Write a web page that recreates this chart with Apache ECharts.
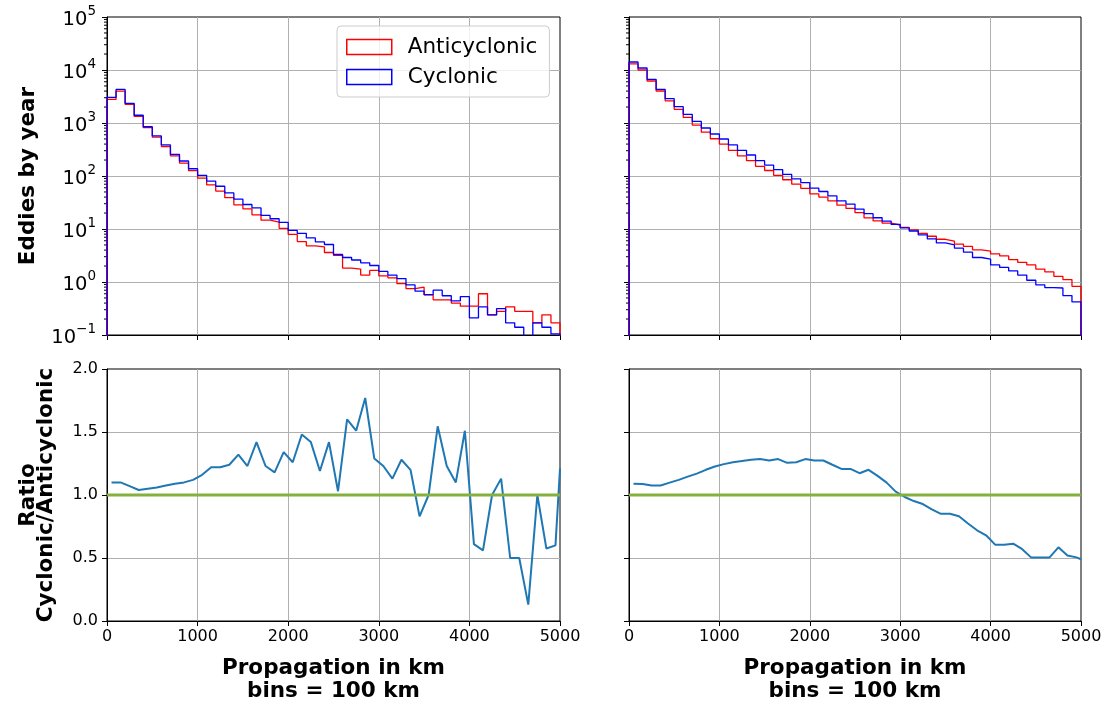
<!DOCTYPE html>
<html>
<head>
<meta charset="utf-8">
<script src="https://cdn.jsdelivr.net/npm/echarts@6/dist/echarts.min.js"></script>
<style>
html,body{margin:0;padding:0;background:#fff;}
#chart{width:1114px;height:708px;}
</style>
</head>
<body>
<div id="chart"></div>
<script>
// ---- data ----
const BIN_EDGES = [0,100,200,300,400,500,600,700,800,900,1000,1100,1200,1300,1400,1500,1600,1700,1800,1900,2000,2100,2200,2300,2400,2500,2600,2700,2800,2900,3000,3100,3200,3300,3400,3500,3600,3700,3800,3900,4000,4100,4200,4300,4400,4500,4600,4700,4800,4900,5000];
const X_TICKS = [0,1000,2000,3000,4000,5000];

const leftAnti = [2800,4000,2250,1330,815,540,360,240,175,126,
  91,68,52,39,28.6,24,18.5,14.7,13.5,10.3,
  7.9,5.8,4.8,4.6,3.6,3.2,1.83,1.75,1.35,1.65,
  1.31,1.2,0.93,0.75,0.80,0.57,0.46,0.46,0.40,0.35,
  0.35,0.60,0.24,0.28,0.34,0.28,0.28,0.17,0.24,0.17];
const leftCyc = [3050,4300,2350,1400,850,570,385,256,192,137,
  103,80,64,48,36.5,29,25,18,15.6,13.3,
  9.4,8.3,6.8,5.7,5.1,3.3,2.9,2.6,2.3,2.05,
  1.58,1.35,1.16,0.88,0.67,0.58,0.70,0.55,0.44,0.53,
  0.21,0.34,0.24,0.315,0.17,0.14,0.036,0.17,0.14,0.105];
const rightAnti = [13000,10000,6200,4020,2620,1810,1275,915,670,505,
  400,305,240,195,152,127,103,85,70,58.5,
  46,40,34,28.2,24.4,20.3,16.2,14.2,12.9,11.9,
  10.7,9.63,8.3,7.3,6.4,5.9,5.2,4.7,4.04,3.81,
  3.4,3.1,2.65,2.35,2.1,1.75,1.55,1.28,1.11,0.83];
const rightCyc = [14150,10900,6670,4320,2880,2030,1460,1070,805,620,
  499,385,305,249,195,161,132,107,88,75,
  59,51,42,34,29.5,23.8,19.5,16.3,14.1,12.2,
  10.5,9.17,7.72,6.49,5.46,5.01,4.34,3.65,2.9,2.7,
  2.1,1.88,1.62,1.35,1.08,0.88,0.78,0.77,0.554,0.42];
// ratio at bin centres, last value read at the right edge (5000)
const RATIO_X = [50,150,250,350,450,550,650,750,850,950,1050,1150,1250,1350,1450,1550,1650,1750,1850,1950,2050,2150,2250,2350,2450,2550,2650,2750,2850,2950,3050,3150,3250,3350,3450,3550,3650,3750,3850,3950,4050,4150,4250,4350,4450,4550,4650,4750,4850,4950,5000];
const leftRatio = [1.10,1.10,1.07,1.04,1.05,1.06,1.075,1.09,1.10,1.12,
  1.16,1.22,1.22,1.24,1.32,1.23,1.42,1.23,1.18,1.34,
  1.26,1.48,1.42,1.19,1.42,1.03,1.60,1.51,1.77,1.29,
  1.23,1.13,1.28,1.20,0.83,1.00,1.545,1.23,1.10,1.51,
  0.61,0.56,1.00,1.13,0.50,0.50,0.13,1.00,0.575,0.60,1.21];
const rightRatio = [1.09,1.088,1.075,1.075,1.098,1.12,1.146,1.17,1.2,1.226,
  1.245,1.26,1.27,1.28,1.285,1.274,1.285,1.255,1.26,1.285,
  1.274,1.274,1.24,1.207,1.207,1.173,1.2,1.152,1.098,1.027,
  0.984,0.952,0.928,0.886,0.851,0.851,0.832,0.774,0.72,0.68,
  0.606,0.606,0.614,0.57,0.503,0.503,0.503,0.585,0.52,0.505,0.49];
const REF_LINE = [1, 1];
const LOG_MIN = 0.1, LOG_MAX = 100000;
const RATIO_TICKS = [0, 0.5, 1.0, 1.5, 2.0];

// ---- helpers ----
const FLOOR = 1e-3;
function stepPoints(vals) {
  const pts = [[BIN_EDGES[0], FLOOR]];
  for (let i = 0; i < vals.length; i++) {
    pts.push([BIN_EDGES[i], vals[i]]);
    pts.push([BIN_EDGES[i + 1], vals[i]]);
  }
  pts.push([BIN_EDGES[BIN_EDGES.length - 1], FLOOR]);
  return pts;
}
function zip(xs, ys) { return ys.map((y, i) => [xs[i], y]); }
const minorVals = [];
for (let d = -1; d < 5; d++) for (let m = 2; m <= 9; m++) minorVals.push([0, m * Math.pow(10, d)]);

const FONT = 'DejaVu Sans';
const TICK_FS = 16;
const NAME_FS = 21.5;
const GRID_COLOR = '#b0b0b0';

const grids = [
  {left: 107, top: 17, width: 453, height: 318},
  {left: 629, top: 17, width: 452, height: 318},
  {left: 107, top: 369, width: 453, height: 252},
  {left: 629, top: 369, width: 452, height: 252}
].map(g => Object.assign({show: true, borderColor: '#000', borderWidth: 1, backgroundColor: 'transparent'}, g));

function xAxis(gi, showLabels) {
  const ax = {
    type: 'value', gridIndex: gi, min: X_TICKS[0], max: X_TICKS[X_TICKS.length - 1], interval: 1000,
    axisLine: {show: true, onZero: false, lineStyle: {color: '#000', width: 1}},
    axisTick: {show: true, inside: false, length: 5, lineStyle: {color: '#000', width: 1}},
    axisLabel: {show: showLabels, color: '#000', fontFamily: FONT, fontSize: TICK_FS, margin: 8, formatter: v => String(v)},
    splitLine: {show: true, showMinLine: false, showMaxLine: false, lineStyle: {color: GRID_COLOR, width: 1}}
  };
  if (showLabels) {
    ax.name = 'Propagation in km\nbins = 100 km';
    ax.nameLocation = 'middle';
    ax.nameGap = 36;
    ax.nameTextStyle = {fontFamily: FONT, fontSize: NAME_FS, fontWeight: 'bold', color: '#000', lineHeight: 23, verticalAlign: 'top'};
  }
  return ax;
}
function supExp(v) {
  const e = Math.round(Math.log10(v));
  return '{b|10}{s|' + (e < 0 ? '\u2212' + (-e) : e) + '}';
}
function logY(gi, showLabels) {
  const ax = {
    type: 'log', logBase: 10, gridIndex: gi, min: LOG_MIN, max: LOG_MAX,
    axisLine: {show: true, onZero: false, lineStyle: {color: '#000', width: 1}},
    axisTick: {show: true, inside: false, length: 5, lineStyle: {color: '#000', width: 1}},
    axisLabel: {show: showLabels, color: '#000', fontFamily: FONT, margin: 11, formatter: supExp,
      rich: {b: {fontFamily: FONT, fontSize: 19.5, color: '#000', verticalAlign: 'bottom', lineHeight: 26},
             s: {fontFamily: FONT, fontSize: 13.5, color: '#000', verticalAlign: 'top', lineHeight: 26}}},
    splitLine: {show: true, showMinLine: false, showMaxLine: false, lineStyle: {color: GRID_COLOR, width: 1}}
  };
  if (showLabels) {
    ax.name = 'Eddies by year';
    ax.nameLocation = 'middle';
    ax.nameGap = 68;
    ax.nameTextStyle = {fontFamily: FONT, fontSize: NAME_FS, fontWeight: 'bold', color: '#000'};
  }
  return ax;
}
function ratioY(gi, showLabels) {
  const ax = {
    type: 'value', gridIndex: gi, min: RATIO_TICKS[0], max: RATIO_TICKS[RATIO_TICKS.length - 1], interval: 0.5,
    axisLine: {show: true, onZero: false, lineStyle: {color: '#000', width: 1}},
    axisTick: {show: true, inside: false, length: 5, lineStyle: {color: '#000', width: 1}},
    axisLabel: {show: showLabels, color: '#000', fontFamily: FONT, fontSize: TICK_FS, margin: 9, formatter: v => v.toFixed(1)},
    splitLine: {show: true, showMinLine: false, showMaxLine: false, lineStyle: {color: GRID_COLOR, width: 1}}
  };
  if (showLabels) {
    ax.name = 'Ratio\nCyclonic/Anticyclonic';
    ax.nameLocation = 'middle';
    ax.nameGap = 51;
    ax.nameTextStyle = {fontFamily: FONT, fontSize: NAME_FS, fontWeight: 'bold', color: '#000', lineHeight: 18.5};
  }
  return ax;
}

function histSeries(name, vals, color, gi) {
  return {
    name: name, type: 'line', xAxisIndex: gi, yAxisIndex: gi,
    data: stepPoints(vals), showSymbol: false, symbol: 'none', clip: true,
    lineStyle: {color: color, width: 1.3}, itemStyle: {color: color},
    animation: false, silent: true, z: 3
  };
}
function ratioSeries(vals, gi) {
  return {
    type: 'line', xAxisIndex: gi, yAxisIndex: gi, data: zip(RATIO_X, vals),
    showSymbol: false, symbol: 'none', clip: true,
    lineStyle: {color: '#1f77b4', width: 2}, animation: false, silent: true, z: 3
  };
}
function refSeries(gi) {
  return {
    type: 'line', xAxisIndex: gi, yAxisIndex: gi, data: zip([0, 5000], REF_LINE),
    showSymbol: false, symbol: 'none', lineStyle: {color: '#84b03c', width: 3},
    animation: false, silent: true, z: 4
  };
}
function minorTickSeries(gi) {
  return {
    type: 'custom', xAxisIndex: gi, yAxisIndex: gi, data: minorVals, clip: false, silent: true, animation: false,
    renderItem: function (params, api) {
      const p = api.coord([api.value(0), api.value(1)]);
      return {type: 'line', shape: {x1: p[0] - 3, y1: p[1], x2: p[0], y2: p[1]}, style: {stroke: '#000', lineWidth: 1}};
    }
  };
}

const chart = echarts.init(document.getElementById('chart'), null, {renderer: 'canvas'});
chart.setOption({
  animation: false,
  backgroundColor: '#fff',
  textStyle: {fontFamily: FONT},
  grid: grids,
  xAxis: [xAxis(0, false), xAxis(1, false), xAxis(2, true), xAxis(3, true)],
  yAxis: [logY(0, true), logY(1, false), ratioY(2, true), ratioY(3, false)],
  legend: {
    left: 337, top: 26, orient: 'vertical',
    itemWidth: 45, itemHeight: 15, itemGap: 8,
    padding: [10, 12, 9, 9],
    backgroundColor: 'rgba(255,255,255,0.8)', borderColor: '#cccccc', borderWidth: 1, borderRadius: 4,
    textStyle: {fontFamily: FONT, fontSize: 21.5, color: '#000', lineHeight: 15, padding: [0, 0, 0, 11]},
    selectedMode: false,
    data: [
      {name: 'Anticyclonic', icon: 'rect', itemStyle: {color: 'rgba(0,0,0,0)', borderColor: '#ff0000', borderWidth: 1.5}},
      {name: 'Cyclonic', icon: 'rect', itemStyle: {color: 'rgba(0,0,0,0)', borderColor: '#0000ff', borderWidth: 1.5}}
    ]
  },
  series: [
    histSeries('Anticyclonic', leftAnti, '#ff0000', 0),
    histSeries('Cyclonic', leftCyc, '#0000ff', 0),
    histSeries('Anticyclonic', rightAnti, '#ff0000', 1),
    histSeries('Cyclonic', rightCyc, '#0000ff', 1),
    ratioSeries(leftRatio, 2),
    refSeries(2),
    ratioSeries(rightRatio, 3),
    refSeries(3),
    minorTickSeries(0),
    minorTickSeries(1)
  ]
});
</script>
</body>
</html>
